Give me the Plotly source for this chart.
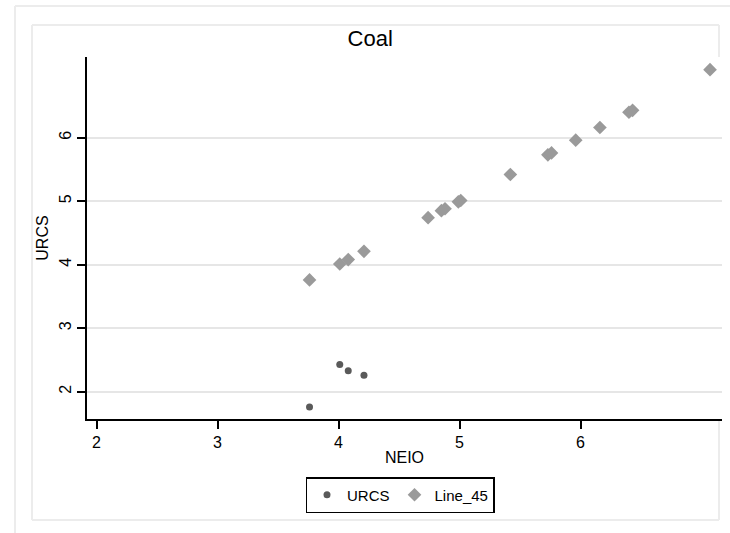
import plotly.graph_objects as go

# ---- data ----
urcs_x = [3.76, 4.01, 4.08, 4.21]
urcs_y = [1.76, 2.43, 2.33, 2.26]
line45_vals = [3.76, 4.01, 4.08, 4.21, 4.74, 4.85, 4.88, 4.99, 5.01,
               5.42, 5.73, 5.76, 5.96, 6.16, 6.40, 6.43, 7.07]
x_ticks = [2, 3, 4, 5, 6]
y_ticks = [2, 3, 4, 5, 6]

W, H = 730, 533
L, R, T, B = 87, 8, 57, 114
PW, PH = W - L - R, H - T - B
FONT = "Liberation Sans, Arial, Helvetica, sans-serif"


def px(xp):
    return (xp - L) / PW


def py(yp):
    return (H - B - yp) / PH


fig = go.Figure()
fig.add_trace(go.Scatter(
    x=urcs_x, y=urcs_y, mode="markers", name="URCS",
    marker=dict(symbol="circle", size=7, color="#5a5a5a"),
))
fig.add_trace(go.Scatter(
    x=line45_vals, y=line45_vals, mode="markers", name="Line_45",
    marker=dict(symbol="diamond", size=10.5, color="#9a9a9a"),
))

frame_col = "#ececec"
shapes = []


def seg(x0, y0, x1, y1):
    shapes.append(dict(type="line", xref="paper", yref="paper",
                       x0=px(x0), y0=py(y0), x1=px(x1), y1=py(y1),
                       line=dict(color=frame_col, width=2), layer="below"))


# outer frame (partially cropped)
seg(15, 6, 740, 6)
seg(15, 6, 15, 540)
# inner frame
seg(32, 25, 719, 25)
seg(32, 25, 32, 520)
seg(32, 520, 719, 520)
seg(719, 25, 719, 57)
seg(719, 419, 719, 520)

fig.update_layout(
    width=W, height=H,
    margin=dict(l=L, r=R, t=T, b=B, pad=0),
    paper_bgcolor="white", plot_bgcolor="white",
    font=dict(family=FONT, size=16, color="black"),
    title=dict(text="Coal", x=px(409), xanchor="center",
               y=1 - 38 / H, yanchor="middle",
               font=dict(size=22, family=FONT, color="black")),
    showlegend=True,
    legend=dict(orientation="h", x=px(400), xanchor="center",
                y=py(477), yanchor="top",
                bordercolor="black", borderwidth=1.5, bgcolor="white",
                font=dict(size=15, family=FONT, color="black"),
                itemwidth=30, tracegroupgap=0),
    shapes=shapes,
    xaxis=dict(range=[1.921, 7.169], tickmode="array", tickvals=x_ticks,
               ticktext=[str(t) for t in x_ticks],
               showgrid=False, zeroline=False,
               showline=True, linecolor="black", linewidth=2,
               ticks="outside", ticklen=8, tickwidth=2, tickcolor="black",
               tickfont=dict(size=16),
               title=dict(text="NEIO", standoff=2, font=dict(size=16))),
    yaxis=dict(range=[1.57, 7.27], tickmode="array", tickvals=y_ticks,
               ticktext=[str(t) for t in y_ticks], tickangle=-90,
               showgrid=True, gridcolor="#e6e6e6", gridwidth=1.5,
               zeroline=False,
               showline=True, linecolor="black", linewidth=2,
               ticks="outside", ticklen=8, tickwidth=2, tickcolor="black",
               tickfont=dict(size=16),
               title=dict(text="URCS", standoff=4, font=dict(size=16))),
)

fig.write_html("out.html")
